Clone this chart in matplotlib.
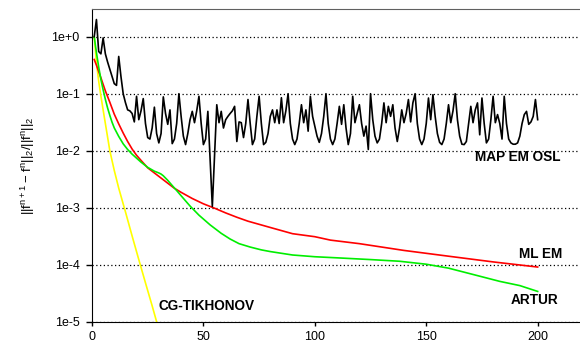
import matplotlib
matplotlib.use("Agg")
import matplotlib.pyplot as plt
from matplotlib.ticker import FixedLocator, NullLocator

plt.rcParams["font.family"] = "Liberation Sans"
plt.rcParams.update({'font.size': 9})

# MAP EM OSL (noisy, black)
osl_iter = [1, 2, 3, 4, 5, 6, 7, 8, 9, 10, 11, 12, 13, 14, 15, 16, 17, 18, 19, 20,
            21, 22, 23, 24, 25, 26, 27, 28, 29, 30, 31, 32, 33, 34, 35, 36, 37, 38, 39, 40,
            41, 42, 43, 44, 45, 46, 47, 48, 49, 50, 51, 52, 54, 56, 57, 58, 59, 60,
            61, 62, 63, 64, 65, 66, 67, 68, 69, 70, 71, 72, 73, 74, 75, 76, 77, 78, 79, 80,
            81, 82, 83, 84, 85, 86, 87, 88, 89, 90, 91, 92, 93, 94, 95, 96, 97, 98, 99, 100,
            101, 102, 103, 104, 105, 106, 107, 108, 109, 110, 111, 112, 113, 114, 115, 116, 117, 118, 119, 120,
            121, 122, 123, 124, 125, 126, 127, 128, 129, 130, 131, 132, 133, 134, 135, 136, 137, 138, 139, 140,
            141, 142, 143, 144, 145, 146, 147, 148, 149, 150, 151, 152, 153, 154, 155, 156, 157, 158, 159, 160,
            161, 162, 163, 164, 165, 166, 167, 168, 169, 170, 171, 172, 173, 174, 175, 176, 177, 178, 179, 180,
            181, 182, 183, 184, 185, 186, 187, 188, 189, 190, 191, 192, 193, 194, 195, 196, 197, 198, 199, 200]
osl_val = [1.0, 2.0, 0.55, 0.5, 0.95, 0.5, 0.36, 0.27, 0.2, 0.15, 0.14, 0.45, 0.2, 0.1, 0.07, 0.052, 0.05, 0.045, 0.032, 0.09,
           0.035, 0.05, 0.082, 0.03, 0.017, 0.016, 0.025, 0.058, 0.02, 0.0137, 0.02, 0.088, 0.045, 0.029, 0.052, 0.0133, 0.016, 0.03, 0.1, 0.04,
           0.018, 0.0128, 0.02, 0.035, 0.049, 0.031, 0.05, 0.09, 0.03, 0.0128, 0.016, 0.049, 0.00105, 0.064, 0.031, 0.049, 0.025, 0.035,
           0.04, 0.045, 0.05, 0.06, 0.0145, 0.032, 0.031, 0.017, 0.03, 0.079, 0.03, 0.0128, 0.016, 0.04, 0.09, 0.03, 0.0128, 0.014, 0.02, 0.04,
           0.052, 0.031, 0.052, 0.03, 0.085, 0.031, 0.05, 0.1, 0.03, 0.016, 0.0128, 0.016, 0.03, 0.064, 0.031, 0.052, 0.022, 0.09, 0.04, 0.027,
           0.018, 0.014, 0.02, 0.04, 0.1, 0.03, 0.016, 0.0128, 0.016, 0.03, 0.06, 0.029, 0.064, 0.025, 0.0128, 0.02, 0.09, 0.031, 0.045, 0.064,
           0.03, 0.018, 0.027, 0.0105, 0.1, 0.035, 0.018, 0.0137, 0.016, 0.03, 0.069, 0.031, 0.06, 0.04, 0.064, 0.025, 0.0145, 0.025, 0.052, 0.031,
           0.045, 0.079, 0.032, 0.069, 0.1, 0.03, 0.016, 0.0128, 0.016, 0.03, 0.084, 0.035, 0.096, 0.04, 0.02, 0.014, 0.0128, 0.016, 0.03, 0.064,
           0.031, 0.05, 0.1, 0.035, 0.018, 0.013, 0.0128, 0.0145, 0.03, 0.06, 0.031, 0.052, 0.069, 0.019, 0.084, 0.03, 0.0137, 0.016, 0.035, 0.09,
           0.031, 0.043, 0.03, 0.016, 0.09, 0.03, 0.016, 0.0137, 0.013, 0.013, 0.0137, 0.018, 0.03, 0.043, 0.049, 0.029, 0.032, 0.04, 0.079, 0.035]

# ML EM (red)
mlem_iter = [1, 2, 3, 4, 6, 8, 10, 12, 14, 16, 18, 20, 22, 25, 28, 31, 34, 37, 40, 45,
             50, 55, 60, 65, 70, 80, 90, 100, 107, 120, 140, 160, 180, 200]
mlem_val = [0.398, 0.316, 0.245, 0.19, 0.112, 0.0708, 0.0437, 0.0295, 0.0204, 0.0145, 0.0107, 0.0083,
            0.00676, 0.00501, 0.00407, 0.00331, 0.00269, 0.00219, 0.00186, 0.00145, 0.00117, 0.00098,
            0.00081, 0.00068, 0.00058, 0.00045, 0.00035, 0.00031, 0.00027, 0.000234, 0.000178,
            0.000141, 0.000112, 0.000091]

# ARTUR (green)
artur_iter = [1, 2, 3, 4, 5, 6, 7, 8, 9, 10, 12, 14, 16, 18, 20, 22, 25, 28, 30, 31, 32, 34, 36, 38,
              40, 44, 48, 53, 58, 62, 66, 71, 76, 80, 90, 100, 110, 125, 138, 150, 160, 170, 183, 192, 200]
artur_val = [1.0, 0.525, 0.295, 0.178, 0.117, 0.0794, 0.0562, 0.0417, 0.0316, 0.0251, 0.0178, 0.0132,
             0.0105, 0.0087, 0.0074, 0.0063, 0.0051, 0.00437, 0.00407, 0.00389, 0.00363, 0.00302,
             0.00245, 0.002, 0.00162, 0.00107, 0.00074, 0.0005, 0.000355, 0.000282, 0.000234,
             0.000204, 0.000182, 0.00017, 0.000148, 0.000138, 0.000132, 0.000123, 0.000115,
             0.000102, 0.000087, 0.000069, 0.000051, 0.000043, 0.000034]

# CG-TIKHONOV (yellow)
cg_iter = [1, 2, 3, 4, 5, 6, 8, 10, 12, 15, 18, 21, 24, 27, 29, 30]
cg_val = [1.0, 0.35, 0.166, 0.091, 0.052, 0.030, 0.01, 0.0045, 0.0022, 8.5e-4, 3.2e-4, 1.23e-4,
          4.8e-5, 1.9e-5, 1.0e-5, 7e-6]

ytick_vals = [1e0, 1e-1, 1e-2, 1e-3, 1e-4, 1e-5]
ytick_labels = ["1e+0", "1e-1", "1e-2", "1e-3", "1e-4", "1e-5"]
xtick_vals = [0, 50, 100, 150, 200]

fig = plt.figure(figsize=(5.8, 3.45), dpi=100)
ax = fig.add_axes([0.1586, 0.0675, 0.8414, 0.905])

ax.plot(cg_iter, cg_val, color='#ffff00', linewidth=1.2)
ax.plot(mlem_iter, mlem_val, color='#ff0000', linewidth=1.2)
ax.plot(artur_iter, artur_val, color='#00ee00', linewidth=1.2)
ax.plot(osl_iter, osl_val, color='black', linewidth=1.2)

ax.set_yscale('log')
ax.set_xlim(0, 219)
ax.set_ylim(1e-5, 3)
ax.yaxis.set_major_locator(FixedLocator(ytick_vals))
ax.yaxis.set_minor_locator(NullLocator())
ax.set_yticklabels(ytick_labels)
ax.set_xticks(xtick_vals)
ax.tick_params(axis='y', direction='out', length=4, width=1, pad=5, labelsize=9)
ax.tick_params(axis='x', direction='out', length=3, width=1, pad=4, labelsize=9)

ax.yaxis.grid(True, linestyle=(0, (1, 2)), color='black', linewidth=0.9)
ax.set_axisbelow(True)

ax.spines['right'].set_visible(False)
ax.spines['top'].set_color('#606060')

ax.set_ylabel(r'$\mathregular{||f^{n+1}-f^{n}||_2/||f^{n}||_2}$', fontsize=9.5, labelpad=10)

ax.text(191.0, 10 ** -2.11, "MAP EM OSL", fontweight='bold', fontsize=9.8, ha='center', va='center')
ax.text(201.3, 10 ** -3.807, "ML EM", fontweight='bold', fontsize=9.8, ha='center', va='center')
ax.text(198.5, 10 ** -4.626, "ARTUR", fontweight='bold', fontsize=9.8, ha='center', va='center')
ax.text(51.6, 10 ** -4.73, "CG-TIKHONOV", fontweight='bold', fontsize=9.8, ha='center', va='center')

plt.savefig("out.png", dpi=100)
